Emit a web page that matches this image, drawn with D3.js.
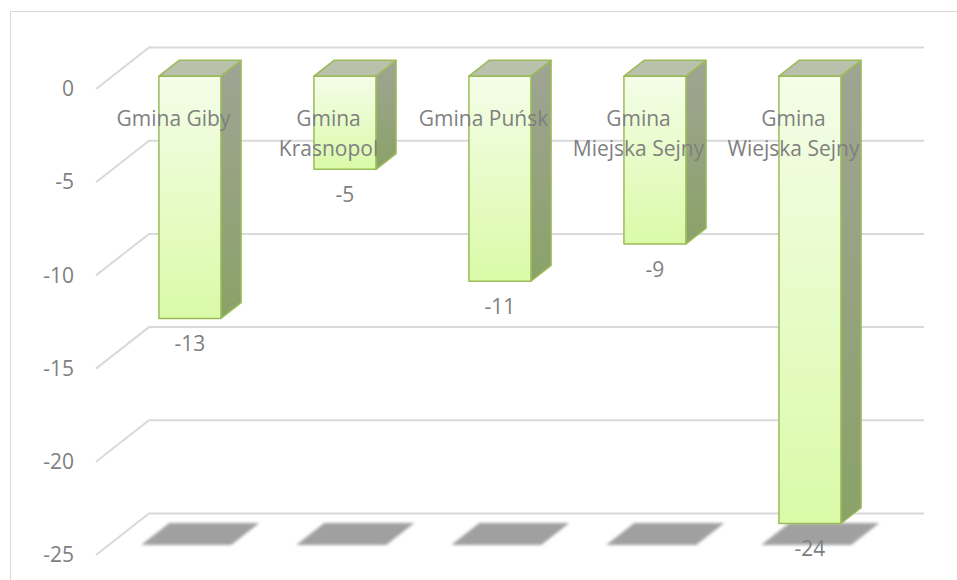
<!DOCTYPE html>
<html>
<head>
<meta charset="utf-8">
<script src="https://cdn.jsdelivr.net/npm/d3@7"></script>
<style>
  body { margin: 0; background: #fff; }
  text { font-family: "Open Sans", sans-serif; fill: #7f7f7f; }
</style>
</head>
<body>
<div id="chart-area"></div>
<script>
const categories = ['Gmina Giby', 'Gmina Krasnopol', 'Gmina Puńsk', 'Gmina Miejska Sejny', 'Gmina Wiejska Sejny'];
const values = [-13, -5, -11, -9, -24];
const yTicks = [0, -5, -10, -15, -20, -25];

const chartSize = { width: 957, height: 580 };
const depth = { dx: 53, dy: 41.5 };
const barDepth = [0.31, 0.69];
const shadowDepth = [0.24, 0.77];
const fontSize = '21px';

const y = d3.scaleLinear().domain([-25, 0]).range([555, 89]);
const x = d3.scaleBand()
  .domain(categories)
  .range([96, 871])
  .paddingInner(0.6)
  .paddingOuter(0.3);

// front-plane point pushed back by f (0 = front, 1 = back wall)
const proj = (px, v, f) => [px + depth.dx * f, y(v) - depth.dy * f];
const poly = pts => pts.map(p => p.join(',')).join(' ');

const svg = d3.select('#chart-area').append('svg')
  .attr('width', chartSize.width)
  .attr('height', chartSize.height);

const defs = svg.append('defs');
const grad = (id, top, bottom) => {
  const g = defs.append('linearGradient').attr('id', id)
    .attr('x1', 0).attr('y1', 0).attr('x2', 0).attr('y2', 1);
  g.append('stop').attr('offset', '0%').attr('stop-color', top);
  g.append('stop').attr('offset', '100%').attr('stop-color', bottom);
};
grad('front', '#f4fde8', '#dafaa8');
grad('side', '#a0a494', '#8aa268');
defs.append('filter').attr('id', 'blur')
  .attr('x', '-20%').attr('y', '-40%').attr('width', '140%').attr('height', '180%')
  .append('feGaussianBlur').attr('stdDeviation', 1.6);

svg.append('rect')
  .attr('x', 10.5).attr('y', 11.5)
  .attr('width', 960).attr('height', 600)
  .attr('fill', 'none').attr('stroke', '#d9d9d9');

// back wall / side wall gridlines
svg.append('g').selectAll('polyline')
  .data(yTicks)
  .enter().append('polyline')
  .attr('points', v => poly([proj(96, v, 0), proj(96, v, 1), [924, y(v) - depth.dy]]))
  .attr('fill', 'none')
  .attr('stroke', '#d9d9d9')
  .attr('stroke-width', 2);

const bars = categories.map((c, i) => ({ name: c, value: values[i] }));

// floor shadows
svg.append('g').selectAll('polygon')
  .data(bars)
  .enter().append('polygon')
  .attr('points', d => {
    const x0 = x(d.name) - 14, x1 = x(d.name) + x.bandwidth() + 14;
    const [f0, f1] = shadowDepth;
    return poly([proj(x0, -25, f0), proj(x1, -25, f0), proj(x1, -25, f1), proj(x0, -25, f1)]);
  })
  .attr('fill', '#a0a0a0')
  .attr('filter', 'url(#blur)');

const barG = svg.append('g').selectAll('g')
  .data(bars)
  .enter().append('g')
  .attr('stroke', '#9bbb59')
  .attr('stroke-width', 1.5)
  .attr('stroke-linejoin', 'round');

const [fa, fb] = barDepth;
barG.append('polygon')
  .attr('fill', 'url(#side)')
  .attr('points', d => {
    const xr = x(d.name) + x.bandwidth();
    return poly([proj(xr, 0, fa), proj(xr, 0, fb), proj(xr, d.value, fb), proj(xr, d.value, fa)]);
  });
barG.append('polygon')
  .attr('fill', '#b9c0ab')
  .attr('points', d => {
    const xl = x(d.name), xr = xl + x.bandwidth();
    return poly([proj(xl, 0, fa), proj(xr, 0, fa), proj(xr, 0, fb), proj(xl, 0, fb)]);
  });
barG.append('polygon')
  .attr('fill', 'url(#front)')
  .attr('points', d => {
    const xl = x(d.name), xr = xl + x.bandwidth();
    return poly([proj(xl, 0, fa), proj(xr, 0, fa), proj(xr, d.value, fa), proj(xl, d.value, fa)]);
  });

// value labels under each bar
svg.append('g').selectAll('text')
  .data(bars)
  .enter().append('text')
  .attr('x', d => proj(x(d.name) + x.bandwidth() / 2, d.value, fa)[0])
  .attr('y', d => proj(0, d.value, fa)[1] + 33)
  .attr('text-anchor', 'middle')
  .style('font-size', fontSize)
  .text(d => String(d.value));

// category labels, wrapped
const catText = svg.append('g').selectAll('text')
  .data(categories)
  .enter().append('text')
  .attr('text-anchor', 'middle')
  .style('font-size', fontSize)
  .attr('x', c => x(c) + x.bandwidth() / 2)
  .attr('y', y(0) + 37);

catText.each(function (c) {
  const t = d3.select(this);
  const words = c.split(' ');
  let line = [];
  let tspan = t.append('tspan').attr('x', t.attr('x')).attr('dy', 0);
  words.forEach(w => {
    line.push(w);
    tspan.text(line.join(' '));
    if (tspan.node().getComputedTextLength() > 136 && line.length > 1) {
      line.pop();
      tspan.text(line.join(' '));
      line = [w];
      tspan = t.append('tspan').attr('x', t.attr('x')).attr('dy', 30).text(w);
    }
  });
});

// value axis labels
const yAxis = d3.axisLeft(y).tickValues(yTicks).tickSize(0).tickPadding(0)
  .tickFormat(d => String(d));
const axisG = svg.append('g')
  .attr('transform', 'translate(74,0)')
  .call(yAxis);
axisG.select('.domain').remove();
axisG.selectAll('text')
  .style('font-size', fontSize)
  .style('font-family', '"Open Sans", sans-serif')
  .attr('fill', '#7f7f7f');
</script>
</body>
</html>
